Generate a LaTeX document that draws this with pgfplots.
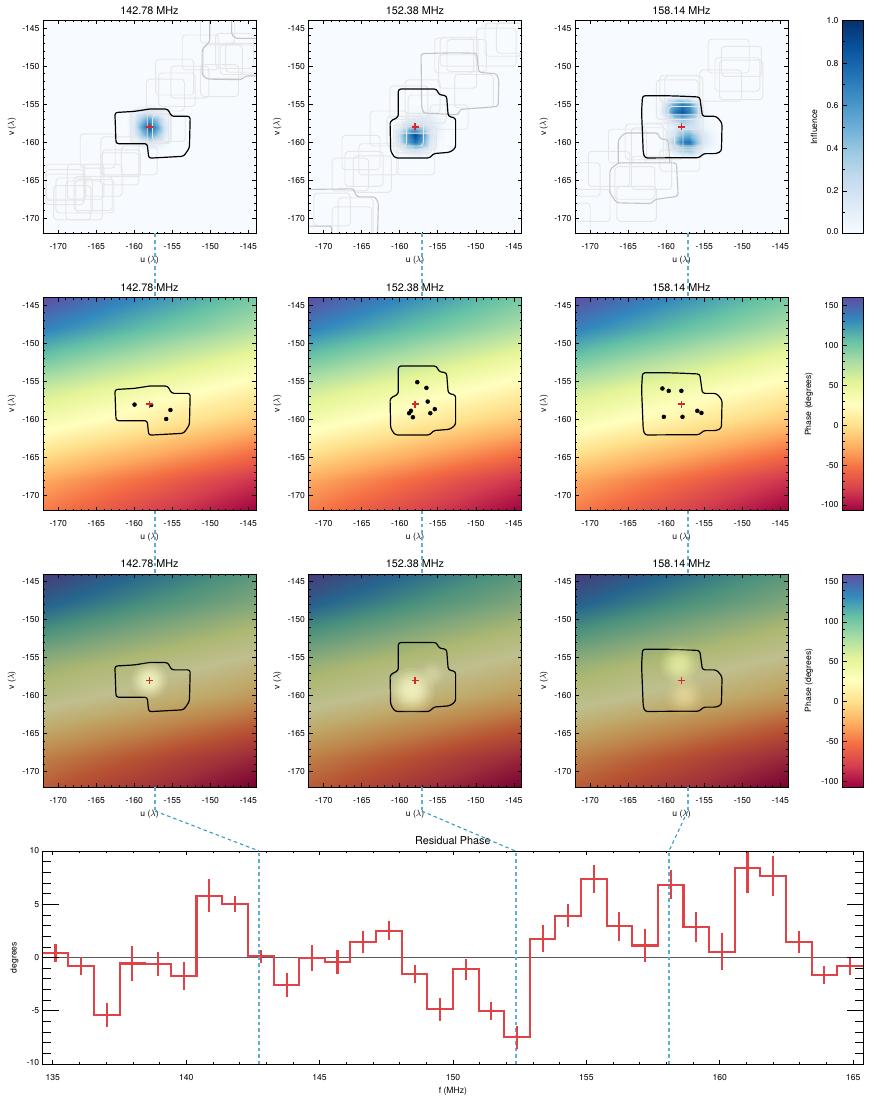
\documentclass[border=0pt]{standalone}
\usepackage{fontspec}
\setmainfont{TeX Gyre Heros}
\usepackage{pgfplots}
\usepackage{pgfplotstable}
\pgfplotsset{compat=1.18}
\definecolor{boxc}{RGB}{230,230,230}
\definecolor{gbox}{RGB}{196,196,196}
\definecolor{conn}{RGB}{95,175,208}
\definecolor{connd}{RGB}{60,155,195}
\definecolor{redm}{RGB}{216,40,46}
\definecolor{redl}{RGB}{224,66,72}
\definecolor{zerol}{RGB}{90,90,90}
\newcommand{\smallf}{\fontsize{8.6}{10}\selectfont}
\pgfplotsset{
 colormap={spectral}{rgb255=(158,1,66) rgb255=(213,62,79) rgb255=(244,109,67) rgb255=(253,174,97) rgb255=(254,224,139) rgb255=(255,255,191) rgb255=(230,245,152) rgb255=(171,221,164) rgb255=(102,194,165) rgb255=(50,136,189) rgb255=(94,79,162)},
 colormap={darkspec}{rgb255=(119,1,50) rgb255=(160,47,59) rgb255=(183,82,50) rgb255=(190,131,73) rgb255=(191,168,104) rgb255=(191,191,143) rgb255=(173,184,114) rgb255=(128,166,123) rgb255=(77,146,124) rgb255=(38,102,142) rgb255=(71,59,122)},
 colormap={blues}{rgb255=(247,251,255) rgb255=(222,235,247) rgb255=(198,219,239) rgb255=(158,202,225) rgb255=(107,174,214) rgb255=(66,146,198) rgb255=(33,113,181) rgb255=(8,81,156) rgb255=(8,48,107)},
 base/.style={scale only axis, axis on top, anchor=south west,
  tick align=inside, major tick length=4pt, minor tick length=2pt,
  tick style={black,line width=.7pt}, axis line style={line width=1pt},
  /pgf/number format/assume math mode=true, scaled ticks=false,
  tick label style={font=\smallf},
  every axis title/.style={at={(axis description cs:0.5,1)},anchor=center,yshift=10.3pt,font=\fontsize{10.8}{12}\selectfont},
  every axis x label/.style={at={(axis description cs:0.5,0)},anchor=center,yshift=-27pt,font=\smallf},
  every x tick label/.style={yshift=-6.5pt},
 },
 panel/.style={base, width=213pt, height=213pt,
  xmin=-172,xmax=-144,ymin=-172,ymax=-144,
  xtick={-170,-165,...,-145}, ytick={-170,-165,...,-145}, minor tick num=4,
  xlabel={u ($\lambda$)}, ylabel={v ($\lambda$)},
  every axis y label/.style={at={(axis description cs:-0.1455,0.5)},rotate=90,anchor=center,font=\smallf},
 },
 cbar/.style={base, width=21pt, height=213pt, xmin=0,xmax=1,xtick=\empty,
  ytick pos=left, major tick length=5pt, minor tick length=3pt},
 box/.style={color=boxc, rounded corners=3.5pt, line width=.9pt, forget plot},
 gb/.style={color=gbox, rounded corners=2.5pt, line width=1.1pt, forget plot},
 bl/.style={color=black, rounded corners=2.5pt, line width=1.2pt, forget plot},
 dots/.style={only marks, color=black, mark=*, mark size=2pt, mark options={fill=black,draw=black}, forget plot},
 redp/.style={only marks, color=redm, mark=+, mark size=3.5pt, mark options={color=redm,line width=1.1pt}, forget plot},
 blu/.style={surf, shader=interp, point meta=explicit, point meta min=0, point meta max=1, colormap name=blues, forget plot},
 spec/.style={surf, shader=interp, mesh/cols=5, point meta=explicit, point meta min=-107, point meta max=160, forget plot},
 vert/.style={color=conn, line width=2.05pt, dash pattern=on 3.5pt off 3pt, forget plot},
}
\newcommand{\rr}[4]{\pgfmathsetmacro{\mx}{(#1+#2)/2}\addplot[box] coordinates {(\mx,#3)(#2,#3)(#2,#4)(#1,#4)(#1,#3)(\mx,#3)};}
\newcommand{\outA}{\addplot[bl] coordinates {(-158,-155.64)(-155.6,-155.64)(-155.1,-156.6)(-152.65,-156.6)(-152.75,-160.75)(-153.5,-161.85)(-158.1,-162.1)(-158.3,-160.19)(-162.4,-160.19)(-162.55,-156.1)(-160,-155.95)(-158,-155.64)};}
\newcommand{\outB}{\addplot[bl] coordinates {(-158,-153.01)(-155.16,-153.01)(-154.85,-153.75)(-153.85,-153.89)(-153.63,-156.6)(-152.66,-156.82)(-152.66,-160.75)(-153.41,-161.32)(-155.6,-161.5)(-156.03,-162.07)(-160.63,-162.07)(-161.2,-161.19)(-161.28,-157.25)(-160.19,-156.69)(-160.19,-153.01)(-158,-153.01)};}
\newcommand{\outC}{\addplot[bl] coordinates {(-160,-153.89)(-158,-153.95)(-155.6,-154.06)(-155.25,-156.6)(-153.41,-156.6)(-152.67,-157.47)(-152.75,-161.19)(-153.41,-161.5)(-155.16,-161.5)(-155.6,-162.03)(-162.81,-162.07)(-163.03,-161.41)(-163.25,-156)(-163.12,-153.89)(-160,-153.89)};}
\newcommand{\redplus}{\addplot[redp] coordinates {(-158,-158)};}
% glow: stacked translucent discs, #1 = sigma in pt, #2 = step opacity, #3 = colour, #4 u, #5 v
\newcommand{\glow}[5]{\pgfplotsinvokeforeach{2.26,1.93,1.71,1.53,1.38,1.24,1.11,.986,.858,.724,.578,.4}{%
 \addplot[only marks, mark=*, mark size={##1*#1pt}, mark options={draw opacity=0,line width=0pt,fill=#3,fill opacity=#2}, forget plot] coordinates {(#4,#5)};}}
\definecolor{glowA}{RGB}{255,255,205}
\definecolor{glowB}{RGB}{240,248,170}
\definecolor{glowC}{RGB}{250,235,170}
\pgfplotstableread{
u v p
-172 -172 -48
-165 -172 -63
-158 -172 -77
-151 -172 -92
-144 -172 -107
-172 -168 -28
-165 -168 -42
-158 -168 -56
-151 -168 -71
-144 -168 -85
-172 -164 5
-165 -164 -9
-158 -164 -22
-151 -164 -36
-144 -164 -50
-172 -160 40
-165 -160 27
-158 -160 14
-151 -160 1
-144 -160 -12
-172 -156 66
-165 -156 53
-158 -156 40
-151 -156 28
-144 -156 15
-172 -152 103
-165 -152 88
-158 -152 74
-151 -152 60
-144 -152 45
-172 -148 137
-165 -148 122
-158 -148 107
-151 -148 93
-144 -148 78
-172 -144 160
-165 -144 145
-158 -144 130
-151 -144 115
-144 -144 100
}\phasetab
\pgfplotstableread[row sep=\\]{
u v c\\
-161 -161 0\\ -160 -161 0\\ -159 -161 .01\\ -158 -161 .02\\ -157 -161 .01\\ -156 -161 0\\ -155 -161 0\\
-161 -160 0\\ -160 -160 .03\\ -159 -160 .11\\ -158 -160 .16\\ -157 -160 .11\\ -156 -160 .03\\ -155 -160 0\\
-161 -159 .01\\ -160 -159 .11\\ -159 -159 .37\\ -158 -159 .56\\ -157 -159 .37\\ -156 -159 .11\\ -155 -159 .01\\
-161 -158 .02\\ -160 -158 .16\\ -159 -158 .56\\ -158 -158 .85\\ -157 -158 .56\\ -156 -158 .16\\ -155 -158 .02\\
-161 -157 .01\\ -160 -157 .11\\ -159 -157 .37\\ -158 -157 .56\\ -157 -157 .37\\ -156 -157 .11\\ -155 -157 .01\\
-161 -156 0\\ -160 -156 .03\\ -159 -156 .11\\ -158 -156 .16\\ -157 -156 .11\\ -156 -156 .03\\ -155 -156 0\\
-161 -155 0\\ -160 -155 0\\ -159 -155 .01\\ -158 -155 .02\\ -157 -155 .01\\ -156 -155 0\\ -155 -155 0\\
}\inflA
\pgfplotstableread[row sep=\\]{
u v c\\
-161 -162 0\\ -160 -162 0\\ -159 -162 .01\\ -158 -162 .02\\ -157 -162 .01\\ -156 -162 0\\ -155 -162 0\\ -154 -162 0\\
-161 -161 0\\ -160 -161 .06\\ -159 -161 .15\\ -158 -161 .22\\ -157 -161 .13\\ -156 -161 .04\\ -155 -161 0\\ -154 -161 0\\
-161 -160 .01\\ -160 -160 .25\\ -159 -160 .55\\ -158 -160 .75\\ -157 -160 .5\\ -156 -160 .15\\ -155 -160 .02\\ -154 -160 0\\
-161 -159 .02\\ -160 -159 .3\\ -159 -159 .6\\ -158 -159 .9\\ -157 -159 .6\\ -156 -159 .2\\ -155 -159 .05\\ -154 -159 0\\
-161 -158 0\\ -160 -158 .1\\ -159 -158 .3\\ -158 -158 .4\\ -157 -158 .3\\ -156 -158 .16\\ -155 -158 .08\\ -154 -158 .01\\
-161 -157 0\\ -160 -157 .01\\ -159 -157 .06\\ -158 -157 .12\\ -157 -157 .14\\ -156 -157 .12\\ -155 -157 .05\\ -154 -157 .01\\
-161 -156 0\\ -160 -156 0\\ -159 -156 .01\\ -158 -156 .03\\ -157 -156 .05\\ -156 -156 .05\\ -155 -156 .02\\ -154 -156 0\\
-161 -155 0\\ -160 -155 0\\ -159 -155 0\\ -158 -155 0\\ -157 -155 0\\ -156 -155 0\\ -155 -155 0\\ -154 -155 0\\
}\inflB
\pgfplotstableread[row sep=\\]{
u v c\\
-162 -162 0\\ -161 -162 0\\ -160 -162 0\\ -159 -162 .01\\ -158 -162 .03\\ -157 -162 .03\\ -156 -162 .01\\ -155 -162 0\\ -154 -162 0\\ -153 -162 0\\
-162 -161 0\\ -161 -161 0\\ -160 -161 .03\\ -159 -161 .18\\ -158 -161 .35\\ -157 -161 .4\\ -156 -161 .2\\ -155 -161 .05\\ -154 -161 .01\\ -153 -161 0\\
-162 -160 0\\ -161 -160 0\\ -160 -160 .06\\ -159 -160 .35\\ -158 -160 .7\\ -157 -160 .75\\ -156 -160 .4\\ -155 -160 .15\\ -154 -160 .05\\ -153 -160 0\\
-162 -159 0\\ -161 -159 0\\ -160 -159 .04\\ -159 -159 .2\\ -158 -159 .45\\ -157 -159 .5\\ -156 -159 .3\\ -155 -159 .15\\ -154 -159 .05\\ -153 -159 0\\
-162 -158 0\\ -161 -158 0\\ -160 -158 .03\\ -159 -158 .1\\ -158 -158 .2\\ -157 -158 .22\\ -156 -158 .15\\ -155 -158 .06\\ -154 -158 .02\\ -153 -158 0\\
-162 -157 0\\ -161 -157 .01\\ -160 -157 .12\\ -159 -157 .3\\ -158 -157 .4\\ -157 -157 .3\\ -156 -157 .15\\ -155 -157 .03\\ -154 -157 0\\ -153 -157 0\\
-162 -156 0\\ -161 -156 .03\\ -160 -156 .3\\ -159 -156 .7\\ -158 -156 .85\\ -157 -156 .7\\ -156 -156 .35\\ -155 -156 .05\\ -154 -156 0\\ -153 -156 0\\
-162 -155 0\\ -161 -155 .02\\ -160 -155 .2\\ -159 -155 .5\\ -158 -155 .7\\ -157 -155 .6\\ -156 -155 .25\\ -155 -155 .03\\ -154 -155 0\\ -153 -155 0\\
-162 -154 0\\ -161 -154 0\\ -160 -154 .02\\ -159 -154 .05\\ -158 -154 .08\\ -157 -154 .06\\ -156 -154 .02\\ -155 -154 0\\ -154 -154 0\\ -153 -154 0\\
-162 -153 0\\ -161 -153 0\\ -160 -153 0\\ -159 -153 0\\ -158 -153 0\\ -157 -153 0\\ -156 -153 0\\ -155 -153 0\\ -154 -153 0\\ -153 -153 0\\
}\inflC
\pgfplotstableread{
f y e
134.14 0.4 0
135.1 0.4 .86
136.06 -0.78 .86
137.02 -5.4 1.17
137.98 -0.56 1.67
138.94 -0.62 1.1
139.9 -1.75 1.3
140.87 5.8 1.56
141.83 5 .75
142.79 0.1 .65
143.76 -2.56 1.12
144.72 -0.03 1.19
145.67 -0.44 1.12
146.63 1.47 1.03
147.6 2.53 .86
148.56 -1.53 .84
149.52 -4.87 1.05
150.48 -1.12 1
151.44 -5 .83
152.4 -7.5 1.09
153.36 1.78 1.28
154.32 3.94 1.08
155.28 7.4 1.3
156.24 2.94 1.38
157.2 1.13 1.52
158.16 6.84 1.36
159.12 2.88 1.44
160.08 .56 1.72
161.04 8.4 2.37
162 7.66 1.84
162.96 1.44 1.03
163.92 -1.63 .84
164.88 -.81 .8
165.84 -.81 0
}\restab
\begin{document}
\begin{tikzpicture}
\useasboundingbox (0,0) rectangle (873pt,-1107pt);
% ---------- Row 1
\begin{axis}[panel, at={(43pt,-233.5pt)}, title={142.78 MHz}, axis background/.style={fill={rgb,255:red,247;green,251;blue,255}}]
\addplot[blu, mesh/cols=7] table[x=u,y=v,meta=c] \inflA;
\rr{-167.1}{-162.5}{-158.9}{-163.4}\rr{-164.4}{-159.4}{-159.3}{-164.3}\rr{-164.2}{-159.2}{-161}{-164.5}
\rr{-161.7}{-157}{-160.5}{-164.3}\rr{-164.4}{-159.4}{-161.4}{-165.6}\rr{-171.6}{-166.6}{-162.9}{-167.5}
\rr{-171.6}{-166.6}{-163.6}{-168.2}\rr{-171.6}{-166.4}{-164.2}{-167.7}\rr{-168.8}{-164}{-162.9}{-167.5}
\rr{-170.6}{-165.7}{-165.7}{-170.2}\rr{-169}{-164.2}{-165.1}{-170.2}\rr{-167.9}{-162.9}{-164.5}{-169}
\rr{-167.7}{-162.7}{-164.9}{-169.3}\rr{-170.3}{-165.5}{-164.7}{-169.3}\rr{-166.6}{-161.6}{-162.9}{-167.1}
\rr{-158.4}{-153.4}{-151.7}{-155.9}\rr{-157.2}{-152.2}{-149.1}{-153.8}\rr{-156.8}{-152}{-150.9}{-155.3}
\rr{-155.2}{-150.2}{-150}{-154.2}\rr{-153.7}{-148.9}{-145.9}{-150.5}\rr{-151.3}{-146.3}{-149.8}{-154}
\rr{-151.3}{-146.8}{-143}{-147}\rr{-149.3}{-144.3}{-145.7}{-150.3}\rr{-148.7}{-143.9}{-147.2}{-151.1}
\rr{-148}{-143.5}{-147}{-150.8}\rr{-150.9}{-145.8}{-147.2}{-151.6}
\rr{-160.5}{-155.2}{-155.9}{-160.2}\rr{-160.3}{-155.5}{-155.7}{-160.1}\rr{-157.6}{-153.3}{-156.4}{-159.9}\rr{-158.3}{-155.2}{-156.2}{-160.1}
\addplot[gb] coordinates {(-150.08,-143)(-150.08,-146.76)(-151.09,-147.85)(-151.09,-151.13)(-150.43,-151.7)(-145.9,-151.79)(-145.4,-151.3)(-143,-151.3)};
\addplot[gb] coordinates {(-147.2,-143)(-147.2,-145.85)(-146.7,-146.35)(-143,-146.35)};
\outA\redplus
\end{axis}
\begin{axis}[panel, at={(308.5pt,-233.5pt)}, title={152.38 MHz}, axis background/.style={fill={rgb,255:red,247;green,251;blue,255}}]
\addplot[blu, mesh/cols=8] table[x=u,y=v,meta=c] \inflB;
\rr{-168.9}{-164.1}{-162.1}{-166.4}\rr{-167.6}{-162.6}{-159.1}{-163.6}\rr{-167.2}{-162.2}{-161.2}{-165.8}
\rr{-166.1}{-161.1}{-161.8}{-166.6}\rr{-165.4}{-160.2}{-160.2}{-164.3}\rr{-163.9}{-159.1}{-155.9}{-160.5}
\rr{-160.4}{-155.4}{-158.8}{-164.3}\rr{-161.7}{-156.9}{-156.6}{-160.5}\rr{-160.8}{-155.8}{-157.7}{-161.4}
\rr{-160}{-155.2}{-157.9}{-161}\rr{-161.3}{-156.3}{-152.6}{-157}\rr{-159.3}{-154.7}{-151.8}{-156.2}
\rr{-158.9}{-153.9}{-153.8}{-157.5}\rr{-155.4}{-150.3}{-146.3}{-150.9}\rr{-154.7}{-149.7}{-146.2}{-150}
\rr{-153.8}{-148.6}{-146.5}{-150.7}\rr{-152.8}{-147.7}{-151.1}{-155.5}\rr{-156}{-151}{-155.1}{-158.3}
\rr{-154.9}{-149.9}{-148.5}{-152.9}\rr{-149.9}{-144.7}{-145}{-150}\rr{-148.8}{-144}{-144.35}{-148.7}
\rr{-147.3}{-143.8}{-144.35}{-148.3}\rr{-171.3}{-166.5}{-166.7}{-171}\rr{-168.9}{-163.7}{-168.5}{-172.3}\rr{-168.1}{-163.5}{-167.3}{-172.3}
\addplot[gb] coordinates {(-153,-148.25)(-149.91,-148.29)(-149.6,-150.82)(-147.28,-151)(-146.98,-151.79)(-147.07,-155.29)(-152.1,-155.7)(-152.3,-156.4)(-156.91,-156.16)(-157.13,-155.29)(-157.2,-148.35)(-153,-148.25)};
\addplot[gb] coordinates {(-173,-166.22)(-166.09,-166.13)(-165.66,-167.18)(-163.25,-167.18)(-162.81,-167.97)(-162.95,-173)};
\addplot[gb] coordinates {(-173,-171.03)(-168.94,-171.03)(-168.94,-173)};
\outB\redplus
\end{axis}
\begin{axis}[panel, at={(575pt,-233.5pt)}, title={158.14 MHz}, axis background/.style={fill={rgb,255:red,247;green,251;blue,255}}]
\addplot[blu, mesh/cols=10] table[x=u,y=v,meta=c] \inflC;
\rr{-154.5}{-149.1}{-146.45}{-150.9}\rr{-152.75}{-147.5}{-147.4}{-151.35}\rr{-153.6}{-147.7}{-148.9}{-153.3}
\rr{-155.6}{-150.1}{-150.5}{-154.6}\rr{-153}{-147.3}{-149.2}{-154.4}\rr{-161.3}{-155.8}{-151.8}{-157}
\rr{-160.2}{-155.2}{-151.3}{-156.4}\rr{-160.85}{-155.6}{-151.2}{-154.8}\rr{-159.75}{-155.15}{-155.3}{-160.5}
\rr{-158.9}{-155.15}{-158.3}{-160.75}\rr{-170.25}{-164.8}{-161.2}{-165.8}\rr{-167.6}{-162.6}{-158.3}{-162.7}
\rr{-165.4}{-160.4}{-157.6}{-162.3}\rr{-164.6}{-160}{-158.1}{-162.7}\rr{-166.75}{-161.5}{-163.2}{-167.5}
\rr{-164.6}{-159.3}{-161.85}{-166.2}\rr{-166.5}{-161.3}{-165.8}{-170.4}\rr{-171.8}{-168.7}{-162.7}{-167.1}
\rr{-173}{-167.4}{-166.2}{-170.4}\rr{-173}{-170}{-168}{-172.5}\rr{-160.85}{-155.6}{-161}{-163.8}\rr{-163}{-157.8}{-157.5}{-162.3}
\addplot[gb] coordinates {(-166.31,-162.72)(-166.31,-159.66)(-165.44,-158.79)(-161.06,-158.79)(-160.85,-159.57)(-159.75,-159.66)(-159.53,-162.72)};
\addplot[gb] coordinates {(-162,-162.72)(-158.66,-162.72)(-158.44,-167.1)(-161.5,-167.53)(-161.94,-168.06)(-166.53,-167.97)(-167.41,-166.66)(-167.41,-163.6)(-166.31,-162.72)(-162,-162.72)};
\outC\redplus
\end{axis}
\begin{axis}[cbar, at={(842pt,-233.5pt)}, ymin=0,ymax=1, ytick={0,.2,.4,.6,.8,1}, minor y tick num=1,
 yticklabels={\raisebox{3.5pt}{0.0},0.2,0.4,0.6,0.8,\raisebox{-3.5pt}{1.0}},
 ylabel={Influence}, every axis y label/.style={at={(axis description cs:-1.333,0.5)},rotate=90,anchor=center,font=\smallf}]
\addplot[surf, shader=interp, mesh/cols=2, point meta=y, colormap name=blues, point meta min=0, point meta max=1] coordinates {(0,0)(1,0)(0,1)(1,1)};
\end{axis}
% ---------- Row 2
\begin{axis}[panel, at={(43pt,-510.5pt)}, title={142.78 MHz}, colormap name=spectral]
\addplot[spec] table[x=u,y=v,meta=p] \phasetab;
\outA
\addplot[dots] coordinates {(-159.97,-158.08)(-157.78,-158.13)(-155.25,-158.79)(-155.81,-159.97)};
\redplus
\end{axis}
\begin{axis}[panel, at={(308.5pt,-510.5pt)}, title={152.38 MHz}, colormap name=spectral]
\addplot[spec] table[x=u,y=v,meta=p] \phasetab;
\outB
\addplot[dots] coordinates {(-157.7,-155.13)(-156.5,-155.88)(-156.33,-157.68)(-155.4,-158.68)(-155.99,-159.21)(-158.53,-158.9)(-158.77,-159.21)(-158.28,-159.74)};
\redplus
\end{axis}
\begin{axis}[panel, at={(575pt,-510.5pt)}, title={158.14 MHz}, colormap name=spectral]
\addplot[spec] table[x=u,y=v,meta=p] \phasetab;
\outC
\addplot[dots] coordinates {(-160.51,-155.96)(-159.68,-156.27)(-158.02,-156.27)(-155.92,-158.9)(-155.38,-159.17)(-157.87,-159.69)(-160.32,-159.69)};
\redplus
\end{axis}
\begin{axis}[cbar, at={(842pt,-510.5pt)}, ymin=-107,ymax=160, ytick={-100,-50,...,150}, minor y tick num=4,
 ylabel={Phase (degrees)}, every axis y label/.style={at={(axis description cs:-1.571,0.5)},rotate=90,anchor=center,font=\smallf}, colormap name=spectral]
\addplot[surf, shader=interp, mesh/cols=2, point meta=y, point meta min=-107, point meta max=160] coordinates {(0,-107)(1,-107)(0,160)(1,160)};
\end{axis}
% ---------- Row 3
\begin{axis}[panel, at={(43pt,-787pt)}, title={142.78 MHz}, colormap name=darkspec]
\addplot[spec] table[x=u,y=v,meta=p] \phasetab;
\glow{8}{.12}{glowA}{-158}{-158}
\outA\redplus
\end{axis}
\begin{axis}[panel, at={(308.5pt,-787pt)}, title={152.38 MHz}, colormap name=darkspec]
\addplot[spec] table[x=u,y=v,meta=p] \phasetab;
\glow{10}{.12}{glowA}{-158.4}{-159.3}
\glow{6}{.035}{glowA}{-155.8}{-157.2}
\outB\redplus
\end{axis}
\begin{axis}[panel, at={(575pt,-787pt)}, title={158.14 MHz}, colormap name=darkspec]
\addplot[spec] table[x=u,y=v,meta=p] \phasetab;
\glow{8.5}{.11}{glowB}{-158.3}{-155.9}
\glow{8.5}{.07}{glowC}{-157.6}{-160}
\outC\redplus
\end{axis}
\begin{axis}[cbar, at={(842pt,-787pt)}, ymin=-107,ymax=160, ytick={-100,-50,...,150}, minor y tick num=4,
 ylabel={Phase (degrees)}, every axis y label/.style={at={(axis description cs:-1.571,0.5)},rotate=90,anchor=center,font=\smallf}, colormap name=spectral]
\addplot[surf, shader=interp, mesh/cols=2, point meta=y, point meta min=-107, point meta max=160] coordinates {(0,-107)(1,-107)(0,160)(1,160)};
\end{axis}
% ---------- Bottom
\begin{axis}[base, at={(42.7pt,-1064pt)}, width=820.3pt, height=213pt,
 xmin=134.62,xmax=165.37,ymin=-10,ymax=10, xtick={135,140,...,165}, minor x tick num=4, ytick=\empty,
 title={Residual Phase}, xlabel={f (MHz)}]
\addplot[color=zerol, line width=1.6pt, forget plot] coordinates {(134,0)(166,0)};
\addplot[vert] coordinates {(142.74,-10)(142.74,10)};
\addplot[vert] coordinates {(152.35,-10)(152.35,10)};
\addplot[vert] coordinates {(158.1,-10)(158.1,10)};
\addplot[const plot mark mid, color=redl, line width=2.05pt, forget plot] table[x=f,y=y] \restab;
\addplot[draw=none, mark=none, forget plot,
 error bars/.cd, y dir=both, y explicit, error mark=none, error bar style={color=redl,line width=2.05pt}]
 table[x=f,y=y,y error=e] \restab;
\end{axis}
\begin{axis}[base, at={(42.7pt,-1064pt)}, width=820.3pt, height=213pt,
 xmin=134.62,xmax=165.37,ymin=-10,ymax=10, xtick=\empty, ytick={-10,-5,0,5,10}, minor y tick num=4,
 major tick length=16pt, minor tick length=8pt,
 yticklabels={\raisebox{3pt}{-10},-5,0,5,\raisebox{-5pt}{10}},
 ylabel={degrees}, every axis y label/.style={at={(axis description cs:-0.0344,0.5)},rotate=90,anchor=center,font=\smallf}]
\end{axis}
% ---------- Connectors
\begin{scope}[conn line/.style={draw=conn, line width=2.05pt, dash pattern=on 3.5pt off 3pt},
 slant line/.style={draw=connd, line width=1.1pt, dash pattern=on 3.5pt off 3pt}]
\foreach \x/\b/\f in {155/259/1, 421.7/515.3/2, 687.7/669/3}{
 \draw[conn line] (\x pt,-233.5pt) -- (\x pt,-297.5pt);
 \draw[conn line] (\x pt,-510.5pt) -- (\x pt,-574pt);
 \draw[conn line] (\x pt,-787pt) -- (\x pt,-811pt);
 \draw[slant line] (\x pt,-811pt) -- (\b pt,-851pt);
}
\end{scope}
\end{tikzpicture}
\end{document}
